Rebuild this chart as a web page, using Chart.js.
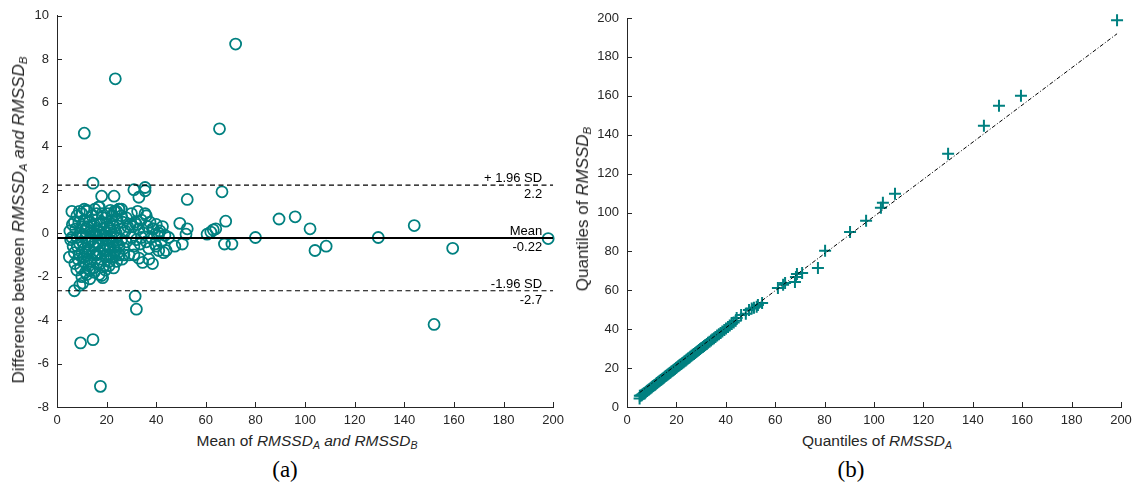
<!DOCTYPE html>
<html>
<head>
<meta charset="utf-8">
<script src="https://cdn.jsdelivr.net/npm/chart.js@4.4.1/dist/chart.umd.min.js"></script>
<style>
  html, body { margin:0; padding:0; background:#fff; }
  #wrap { position:relative; width:1139px; height:495px; background:#fff; overflow:hidden;
          font-family:"Liberation Sans", Arial, Helvetica, sans-serif; color:#262626; }
  canvas { position:absolute; top:0; }
  .ttl { position:absolute; white-space:nowrap; font-size:15.5px; color:#262626; }
  .ttl.big { font-size:17px; }
  .ttl sub { font-size:0.68em; vertical-align:-0.3em; line-height:0; }
  .rot { transform:translate(-50%,-50%) rotate(-90deg); transform-origin:center center; }
  .hz { transform:translate(-50%,-50%); }
  .cap { position:absolute; font-family:"Liberation Serif","DejaVu Serif",serif; font-size:23px; color:#000;
         transform:translate(-50%,-50%); }
</style>
</head>
<body>
<div id="wrap">
  <canvas id="ca" width="570" height="430" style="left:0"></canvas>
  <canvas id="cb" width="569" height="430" style="left:570px"></canvas>
  <div class="ttl big rot" style="left:19px;top:220px">Difference between <i>RMSSD</i><sub><i>A</i></sub> <i>and RMSSD</i><sub><i>B</i></sub></div>
  <div class="ttl hz" style="left:307px;top:441px">Mean of <i>RMSSD</i><sub><i>A</i></sub> <i>and RMSSD</i><sub><i>B</i></sub></div>
  <div class="ttl big rot" style="left:583px;top:209px">Quantiles of <i>RMSSD</i><sub><i>B</i></sub></div>
  <div class="ttl hz" style="left:877px;top:441px">Quantiles of <i>RMSSD</i><sub><i>A</i></sub></div>
  <div class="cap" style="left:285px;top:470px">(a)</div>
  <div class="cap" style="left:851px;top:470px">(b)</div>
</div>
<script>
// ---------- Data: Bland-Altman (panel a) ----------
const baMean = [
  72, 23.5, 11, 65.5, 14.5, 35.5, 35.5, 31, 18, 23, 66.5, 52.5, 144, 96, 89.5, 102, 104, 108.5, 80, 129.5,
  159.5, 198, 152, 9.5, 14.5, 17.5, 31.5, 32, 7, 9.2, 10.4, 13.2, 18, 18.4, 67.5, 70.5, 60.5, 62, 63, 64,
  68, 49.5, 50.5, 52.5, 52, 47.5, 33, 17, 25, 21.5, 26, 24, 12, 16,
  5.2, 5.5, 6, 5, 6.5, 6.2, 7, 7.5, 7.2, 8, 8, 8.5, 8.8, 9, 9.2, 9.5, 9.8, 10, 10, 10.5,
  10.8, 11, 11.2, 11.5, 11.8, 12, 12, 12.5, 12.8, 13, 13.2, 13.5, 13.8, 14, 14, 14.5, 14.8, 15, 15.2, 15.5,
  15.8, 16, 16.2, 16.5, 16.8, 17, 17.2, 17.5, 17.8, 18, 18.2, 18.5, 18.8, 19, 19.2, 19.5, 19.8, 20, 20.2, 20.5,
  20.8, 21, 21.2, 21.5, 21.8, 22, 22.2, 22.5, 22.8, 23, 23.2, 23.5, 23.8, 24, 24.2, 24.5, 25, 25.2, 25.5, 26,
  26.2, 26.5, 27, 27.5, 28, 28.5, 29, 29.5, 30, 30.5, 31, 31.5, 32, 32.5, 33, 33, 33.5, 34, 34.5, 35,
  35.5, 36, 36.5, 37, 37.5, 38, 38.5, 39, 39.5, 40, 40.5, 41, 41.5, 42, 43, 43.5, 44, 45,
  8.2, 9, 9.5, 10.2, 10.8, 11, 11.5, 12.2, 12.5, 13, 13.5, 14.2, 14.5, 15, 15.5, 16, 16.5, 17, 17.5, 18,
  18.5, 19, 19.5, 20, 20.5, 21, 21.5, 22, 22.5, 23, 24, 24.5, 11, 13, 15, 17, 19.5, 7, 6, 8,
  10, 12, 21, 23, 25, 26, 27, 28, 30, 31, 32, 34, 36, 37, 38.5, 40, 41, 42.5
];
const baDiff = [
  8.7, 7.1, 4.6, 4.8, 2.3, 2.1, 1.95, 2.0, 1.7, 1.7, 1.9, 1.55, 0.35, 0.75, 0.65, 0.2, -0.8, -0.6, -0.2, -0.2,
  -0.7, -0.25, -4.2, -5.05, -4.9, -7.05, -2.9, -3.5, -2.65, -2.4, -2.3, -2.1, -1.95, -2.05, -0.5, -0.5, -0.05, 0.05, 0.15, 0.2,
  0.55, 0.45, -0.5, 0.2, -0.05, -0.6, 1.65, 1.2, 1.1, 1.05, 1.1, 1.0, 1.05, 0.9,
  0.1, -0.3, 1.0, -1.1, -0.6, 0.4, -0.9, 0.2, -1.4, 0.8, -0.2, -1.2, 0.5, 1.0, -0.5, -1.6, 0.3, -0.9, 0.9, -0.1,
  -1.3, 0.6, -0.7, -1.8, 0.2, -1.0, 1.0, -0.4, -1.5, 0.5, -0.8, 0.1, -1.2, 0.8, -0.3, -1.6, 0.3, -0.6, 1.1, -1.0,
  -0.1, 0.6, -1.4, -0.5, 1.2, 0.1, -0.9, 0.4, -1.2, -0.3, 0.9, -0.7, 0.2, -1.5, -0.1, 0.7, -0.5, -1.0, 0.3, 0.9,
  -0.3, -1.3, 0.5, -0.7, 0.1, -1.1, 0.8, -0.4, -1.6, 0.3, 1.0, -0.8, 0.0, -1.3, 0.6, -0.5, 1.1, -1.0, 0.2, -0.3,
  -1.2, 0.5, -0.7, 0.1, -0.4, 0.3, -1.0, 0.4, -0.2, 0.3, -0.6, 0.5, -0.3, 1.0, 0.2, -1.15, -0.5, 0.6, -1.35, 0.0,
  0.9, -0.4, 0.3, -0.7, 0.5, -0.2, -1.4, 0.2, -0.5, 0.4, -0.1, -0.8, 0.1, -0.4, -0.9, -0.1, -0.8, -0.2,
  -0.6, -1.0, 0.0, -0.4, 0.3, -1.1, -0.2, 0.3, -0.9, -0.3, -1.3, 0.0, -0.9, 0.4, -0.4, -1.0, 0.1, -0.6, -1.4, 0.5,
  -0.1, -0.8, -1.1, 0.0, -0.6, 0.2, -1.0, -0.2, 0.4, -0.6, -0.2, -0.9, 1.1, -1.7, -1.8, -1.9, -1.7, 0.5, -0.2, -1.7,
  -2.0, -1.9, -1.5, -1.1, -0.6, 0.8, -1.0, 0.7, 0.9, -1.0, 0.4, -0.2, 0.8, -1.2, 0.2, -0.6, 0.0, 0.3
];
// limits of agreement
const limitValues = [2.21, -0.22, -2.65];
const limitNames  = ["+ 1.96 SD", "Mean", "-1.96 SD"];
const limitLabels = ["2.2", "-0.22", "-2.7"];

// ---------- Data: Q-Q plot (panel b) ----------
const qqA = [
  5.1, 5.2, 5.6, 6.0, 6.3, 6.7, 7.0, 7.4, 7.7, 8.1, 8.4, 8.8, 9.1, 9.5, 9.9, 10.2, 10.6, 11.0, 11.4, 11.8,
  12.1, 12.5, 12.9, 13.3, 13.7, 14.1, 14.5, 14.9, 15.3, 15.7, 16.1, 16.5, 16.9, 17.3, 17.7, 18.1, 18.6, 19.0, 19.4, 19.8,
  20.2, 20.7, 21.1, 21.5, 22.0, 22.4, 22.9, 23.3, 23.8, 24.2, 24.7, 25.2, 25.6, 26.1, 26.6, 27.1, 27.6, 28.1, 28.6, 29.1,
  29.6, 30.1, 30.7, 31.2, 31.7, 32.3, 32.8, 33.4, 34.0, 34.6, 35.2, 35.8, 36.5, 37.2, 37.9, 38.6, 39.4, 40.1, 40.9, 41.6,
  42.4, 43.2, 44.0, 44.4, 46.2, 48.1, 49.4, 50.5, 51.4, 52.5, 53.0, 54.7, 61.1, 63.2, 64.0, 68.0, 68.4, 68.8, 70.9, 77.3,
  80.2, 90.3, 96.8, 102.8, 103.6, 108.5, 130.0, 144.5, 150.6, 159.5, 198.4
];
const qqB = [
  4.4, 5.8, 5.9, 6.1, 6.5, 6.8, 7.2, 7.5, 7.9, 8.2, 8.6, 8.9, 9.3, 9.7, 10.0, 10.4, 10.8, 11.2, 11.5, 11.9,
  12.3, 12.7, 13.1, 13.5, 13.9, 14.3, 14.7, 15.1, 15.5, 15.9, 16.3, 16.7, 17.1, 17.5, 17.9, 18.4, 18.8, 19.2, 19.6, 20.0,
  20.4, 20.9, 21.3, 21.7, 22.1, 22.6, 23.0, 23.5, 23.9, 24.4, 24.9, 25.3, 25.8, 26.3, 26.8, 27.3, 27.8, 28.3, 28.8, 29.3,
  29.8, 30.3, 30.8, 31.4, 31.9, 32.4, 33.0, 33.6, 34.2, 34.8, 35.4, 36.0, 36.7, 37.4, 38.1, 38.8, 39.6, 40.3, 41.1, 41.9,
  42.7, 43.5, 44.3, 45.8, 47.3, 47.9, 49.9, 50.6, 51.0, 51.6, 52.4, 53.5, 61.2, 62.8, 63.8, 64.3, 66.9, 68.4, 68.9, 71.5,
  80.3, 90.0, 95.7, 102.4, 105.0, 109.6, 130.2, 144.6, 154.9, 160.0, 198.8
];
// reference line end points
const qqLineX = [5.1, 198.4];
const qqLineY = [7.4, 191.9];

// tick definitions
const aXTicks = {min:0, max:200, step:20};
const aYTicks = {min:-8, max:10, step:2};
const bXTicks = {min:0, max:200, step:20};
const bYTicks = {min:0, max:200, step:20};

// ---------- styling ----------
const TEAL = 'rgb(0,128,128)';
const AXC = '#262626';
const FONT = '"Liberation Sans", Arial, Helvetica, sans-serif';
Chart.defaults.font.family = FONT;
Chart.defaults.color = AXC;

const inwardTicks = {
  id: 'inwardTicks',
  afterDraw(chart) {
    const ctx = chart.ctx, ca = chart.chartArea;
    const xs = chart.scales.x, ys = chart.scales.y;
    ctx.save();
    ctx.strokeStyle = AXC; ctx.lineWidth = 1;
    ctx.beginPath();
    xs.ticks.forEach(t => {
      const px = Math.round(xs.getPixelForValue(t.value)) + 0.5;
      ctx.moveTo(px, ca.bottom); ctx.lineTo(px, ca.bottom - 5);
    });
    ys.ticks.forEach(t => {
      const py = Math.round(ys.getPixelForValue(t.value)) + 0.5;
      ctx.moveTo(ca.left, py); ctx.lineTo(ca.left + 5, py);
    });
    ctx.stroke();
    ctx.restore();
  }
};

const limitText = {
  id: 'limitText',
  afterDatasetsDraw(chart) {
    const ctx = chart.ctx, ys = chart.scales.y, ca = chart.chartArea;
    ctx.save();
    ctx.fillStyle = '#000';
    ctx.font = '13px ' + FONT;
    ctx.textAlign = 'right';
    const xr = ca.right - 11;
    limitValues.forEach((v, i) => {
      const py = ys.getPixelForValue(v);
      ctx.textBaseline = 'alphabetic';
      ctx.fillText(limitNames[i], xr, py - 3);
      ctx.textBaseline = 'top';
      ctx.fillText(limitLabels[i], xr, py + 3);
    });
    ctx.restore();
  }
};

function scaleOpts(t, w, h, axis) {
  const o = {
    type: 'linear', min: t.min, max: t.max,
    grid: { display: false, drawTicks: false },
    border: { display: true, color: AXC, width: 1 },
    ticks: { stepSize: t.step, padding: axis === 'y' ? 8 : 6, font: { size: 13 }, color: AXC,
             maxRotation: 0, autoSkip: false },
  };
  if (axis === 'y') o.afterFit = s => { s.width = w; };
  else o.afterFit = s => { s.height = h; };
  return o;
}

// ---------- Panel (a) ----------
const baPoints = baMean.map((x, i) => ({ x, y: baDiff[i] }));
const limitDatasets = limitValues.map((v, i) => ({
  type: 'line',
  data: [{ x: aXTicks.min, y: v }, { x: aXTicks.max, y: v }],
  borderColor: '#000',
  borderWidth: i === 1 ? 2 : 1.2,
  borderDash: i === 1 ? [] : [5, 3.5],
  pointRadius: 0, fill: false, order: 0
}));

new Chart(document.getElementById('ca'), {
  type: 'scatter',
  data: {
    datasets: [
      { data: baPoints, pointStyle: 'circle', pointRadius: 5.5, pointBorderWidth: 1.8,
        borderColor: TEAL, backgroundColor: 'rgba(0,0,0,0)', pointHoverRadius: 5.5, order: 1, clip: false },
      ...limitDatasets
    ]
  },
  options: {
    responsive: false, animation: false, events: [],
    layout: { padding: { top: 12, right: 14, left: 0, bottom: 0 } },
    plugins: { legend: { display: false }, tooltip: { enabled: false } },
    scales: { x: scaleOpts(aXTicks, 57, 23, 'x'), y: scaleOpts(aYTicks, 57, 23, 'y') }
  },
  plugins: [inwardTicks, limitText]
});

// ---------- Panel (b) ----------
const qqPoints = qqA.map((x, i) => ({ x, y: qqB[i] }));
new Chart(document.getElementById('cb'), {
  type: 'scatter',
  data: {
    datasets: [
      { data: qqPoints, pointStyle: 'cross', pointRadius: 6, pointBorderWidth: 2,
        borderColor: TEAL, backgroundColor: TEAL, order: 1, clip: false },
      { type: 'line', data: qqLineX.map((x, i) => ({ x, y: qqLineY[i] })),
        borderColor: '#000', borderWidth: 1, borderDash: [4, 2, 1, 2],
        pointRadius: 0, fill: false, order: 0 }
    ]
  },
  options: {
    responsive: false, animation: false, events: [],
    layout: { padding: { top: 18, right: 18, left: 0, bottom: 0 } },
    plugins: { legend: { display: false }, tooltip: { enabled: false } },
    scales: { x: scaleOpts(bXTicks, 57, 23, 'x'), y: scaleOpts(bYTicks, 57, 23, 'y') }
  },
  plugins: [inwardTicks]
});
</script>
</body>
</html>
